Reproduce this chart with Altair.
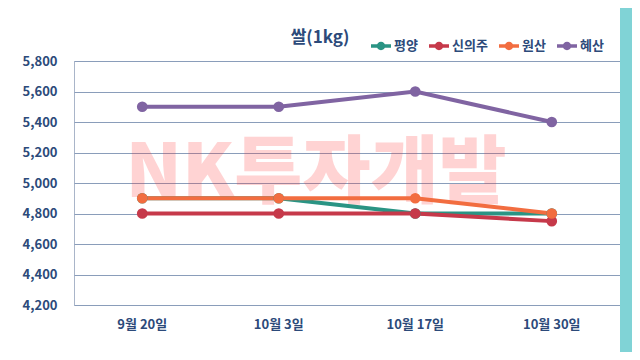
import altair as alt
import pandas as pd

dates = ["9월 20일", "10월 3일", "10월 17일", "10월 30일"]
cities = ["평양", "신의주", "원산", "혜산"]
pyongyang = [4900, 4900, 4800, 4800]
sinuiju = [4800, 4800, 4800, 4750]
wonsan = [4900, 4900, 4900, 4800]
hyesan = [5500, 5500, 5600, 5400]
colors = ["#2a9484", "#c6394a", "#f26d40", "#8064a2"]

rows = []
for city, vals in zip(cities, [pyongyang, sinuiju, wonsan, hyesan]):
    for d, v in zip(dates, vals):
        rows.append({"date": d, "city": city, "price": v})
df = pd.DataFrame(rows)

FONT = "Noto Sans CJK KR"
LABEL = "#2c4a7a"

x = alt.X("date:N", sort=dates, title=None,
          scale=alt.Scale(paddingInner=0, paddingOuter=0, type="band"),
          axis=alt.Axis(labelAngle=0, ticks=False, domain=False, labelPadding=13,
                        labelFont=FONT, labelFontSize=13, labelFontWeight="bold",
                        labelColor=LABEL))
y = alt.Y("price:Q", title=None,
          scale=alt.Scale(domain=[4200, 5800], nice=False, zero=False),
          axis=alt.Axis(values=list(range(4200, 5801, 200)), format=",.0f", ticks=False,
                        domain=False, labelPadding=17, labelFont=FONT, labelFontSize=13,
                        labelFontWeight="bold", labelColor=LABEL,
                        gridColor="#8a9dba", gridWidth=1))
color = alt.Color("city:N", sort=cities,
                  scale=alt.Scale(domain=cities, range=colors),
                  legend=alt.Legend(title=None, orient="none", direction="horizontal",
                                    columns=4, legendX=297, legendY=-25,
                                    symbolType="M-1,-0.17H1V0.17H-1Z M-0.42,0A0.42,0.42 0 1,1 0.42,0A0.42,0.42 0 1,1 -0.42,0Z",
                                    symbolSize=400, symbolStrokeWidth=0,
                                    labelFont=FONT, labelFontSize=13, labelFontWeight="bold",
                                    labelColor=LABEL, labelOffset=3, columnPadding=11))

base = alt.Chart(df)
lines = base.mark_line(strokeWidth=4).encode(x=x, y=y, color=color)
points = base.mark_circle(size=115, opacity=1).encode(
    x=x, y=y,
    color=alt.Color("city:N", scale=alt.Scale(domain=cities, range=colors), legend=None))

one = alt.Data(values=[{"a": 1}])
watermark = alt.Chart(one).mark_text(
    text="NK투자개발", font=FONT, fontSize=74, fontWeight=900, fill="#ff2a2a",
    opacity=0.2, align="center", baseline="middle"
).encode(x=alt.value(242), y=alt.value(114))

title = alt.Chart(one).mark_text(
    text="쌀(1kg)", font=FONT, fontSize=17, fontWeight="bold", fill=LABEL,
    align="center", baseline="middle"
).encode(x=alt.value(246), y=alt.value(-23))

teal = "#80d3d6"
right_border = alt.Chart(one).mark_rect(color=teal).encode(
    x=alt.value(546), x2=alt.value(580), y=alt.value(-60), y2=alt.value(310))

chart = alt.layer(watermark, lines, points, title, right_border).properties(
    width=546, height=244,
    autosize=alt.AutoSizeParams(type="none"),
    padding={"left": 66, "top": 53, "right": 12, "bottom": 47},
    background="white",
).configure_view(stroke="#a9b5c9", strokeWidth=1)

chart.save("out.html", embed_options={"renderer": "svg", "actions": False})
